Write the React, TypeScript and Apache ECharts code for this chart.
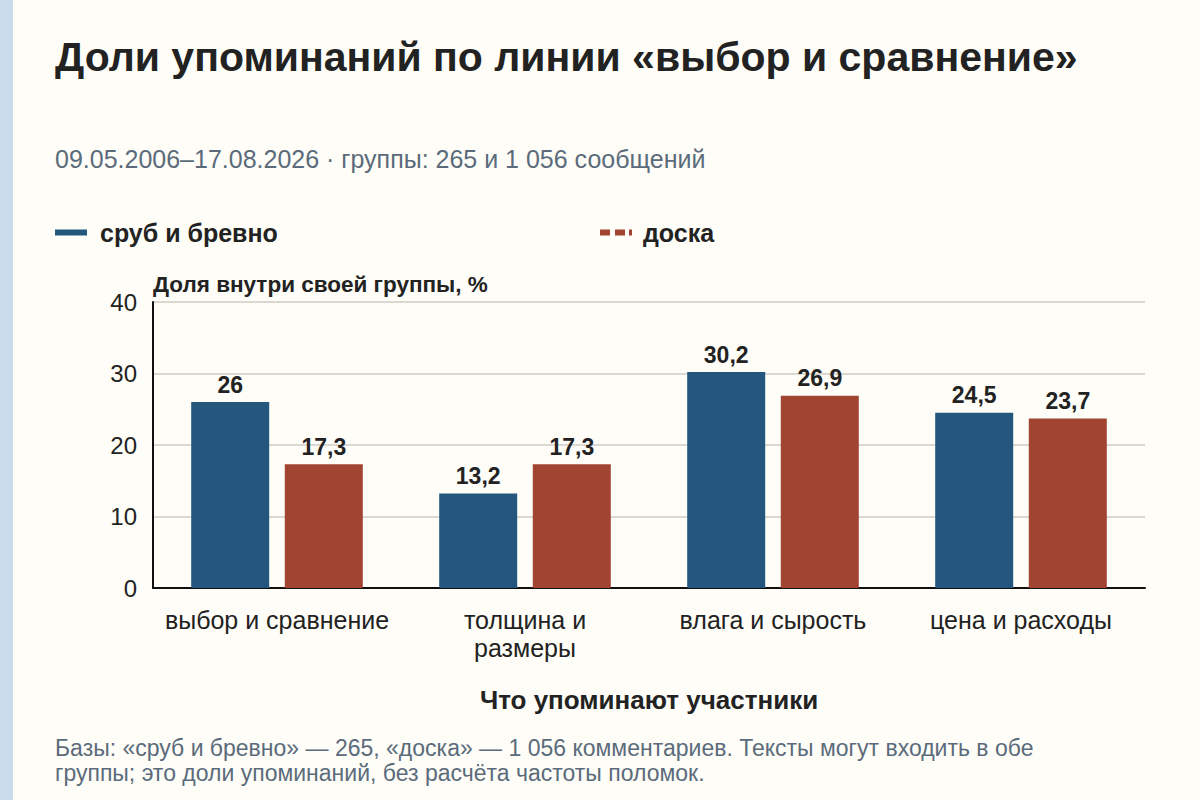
import React, { useEffect, useRef } from 'react';
import * as echarts from 'echarts';

const categories = ['выбор и сравнение', 'толщина и\nразмеры', 'влага и сырость', 'цена и расходы'];
const srubValues = [26, 13.2, 30.2, 24.5];
const doskaValues = [17.3, 17.3, 26.9, 23.7];
const yTicks = [0, 10, 20, 30, 40];

const BLUE = '#24577d';
const RED = '#a14431';
const INK = '#222222';
const MUTED = '#5b6b7b';
const FONT = '"Liberation Sans", Arial, sans-serif';

const fmt = (v: number) => String(v).replace('.', ',');

const App: React.FC = () => {
  const chartRef = useRef<HTMLDivElement | null>(null);

  useEffect(() => {
    if (!chartRef.current) return;
    const chart = echarts.init(chartRef.current, undefined, { renderer: 'svg' });

    const valueLabel = {
      show: true,
      position: 'top' as const,
      distance: 6,
      fontSize: 23,
      fontWeight: 'bold' as const,
      color: INK,
      formatter: (p: any) => fmt(p.value),
    };

    const option: echarts.EChartsOption = {
      animation: false,
      textStyle: { fontFamily: FONT },
      title: [
        {
          text: 'Доли упоминаний по линии «выбор и сравнение»',
          left: 55,
          top: 36,
          padding: 0,
          textStyle: { fontSize: 41, fontWeight: 'bold', color: INK, fontFamily: FONT },
        },
        {
          text: '09.05.2006–17.08.2026 · группы: 265 и 1 056 сообщений',
          left: 55,
          top: 146,
          padding: 0,
          textStyle: { fontSize: 25, fontWeight: 'normal', color: MUTED, fontFamily: FONT },
        },
        {
          text:
            'Базы: «сруб и бревно» — 265, «доска» — 1 056 комментариев. Тексты могут входить в обе\nгруппы; это доли упоминаний, без расчёта частоты поломок.',
          left: 55,
          top: 735,
          padding: 0,
          textStyle: { fontSize: 23, fontWeight: 'normal', color: MUTED, lineHeight: 25, fontFamily: FONT },
        },
      ],
      legend: [
        {
          data: [{ name: 'сруб и бревно', icon: 'path://M0,0h32v6h-32z' }],
          left: 55,
          top: 220,
          padding: 0,
          itemWidth: 32,
          itemHeight: 6,
          textStyle: { fontSize: 25, fontWeight: 'bold', color: INK, padding: [0, 0, 0, 8] },
          selectedMode: false,
        },
        {
          data: [{ name: 'доска', icon: 'path://M0,0h10v6h-10z M15,0h10v6h-10z M29,0h3v6h-3z' }],
          left: 600,
          top: 220,
          padding: 0,
          itemWidth: 32,
          itemHeight: 6,
          textStyle: { fontSize: 25, fontWeight: 'bold', color: INK, padding: [0, 0, 0, 6] },
          selectedMode: false,
        },
      ],
      grid: { left: 153, right: 55, top: 302, bottom: 212 },
      xAxis: {
        type: 'category',
        data: categories,
        name: 'Что упоминают участники',
        nameLocation: 'middle',
        nameGap: 99,
        nameTextStyle: { fontSize: 26, fontWeight: 'bold', color: INK },
        axisLine: { lineStyle: { color: '#111', width: 2 } },
        axisTick: { alignWithLabel: true, length: 6, lineStyle: { color: '#333' } },
        axisLabel: { fontSize: 25, color: INK, margin: 18, lineHeight: 28, interval: 0 },
      },
      yAxis: {
        type: 'value',
        min: yTicks[0],
        max: yTicks[yTicks.length - 1],
        interval: 10,
        name: 'Доля внутри своей группы, %',
        nameLocation: 'end',
        nameGap: 6,
        nameTextStyle: { fontSize: 22.5, fontWeight: 'bold', color: INK, align: 'left', verticalAlign: 'bottom' },
        axisLine: { show: true, lineStyle: { color: '#111', width: 2 } },
        axisTick: { show: false },
        axisLabel: { fontSize: 24, color: INK, margin: 16 },
        splitLine: { lineStyle: { color: '#cfcbc5', width: 1.5 } },
      },
      series: [
        {
          name: 'сруб и бревно',
          type: 'bar',
          data: srubValues,
          barWidth: 78,
          barGap: '20%',
          itemStyle: { color: BLUE },
          label: valueLabel,
        },
        {
          name: 'доска',
          type: 'bar',
          data: doskaValues,
          barWidth: 78,
          itemStyle: { color: RED },
          label: valueLabel,
        },
      ],
    };

    chart.setOption(option);
    return () => {
      chart.dispose();
    };
  }, []);

  return (
    <div style={{ position: 'fixed', left: 0, top: 0, width: 1200, height: 800, background: '#fefdf7' }}>
      <div style={{ position: 'absolute', left: 0, top: 0, width: 13, height: 800, background: '#c8dcec' }} />
      <div ref={chartRef} style={{ position: 'absolute', left: 0, top: 0, width: 1200, height: 800 }} />
    </div>
  );
};

export default App;
